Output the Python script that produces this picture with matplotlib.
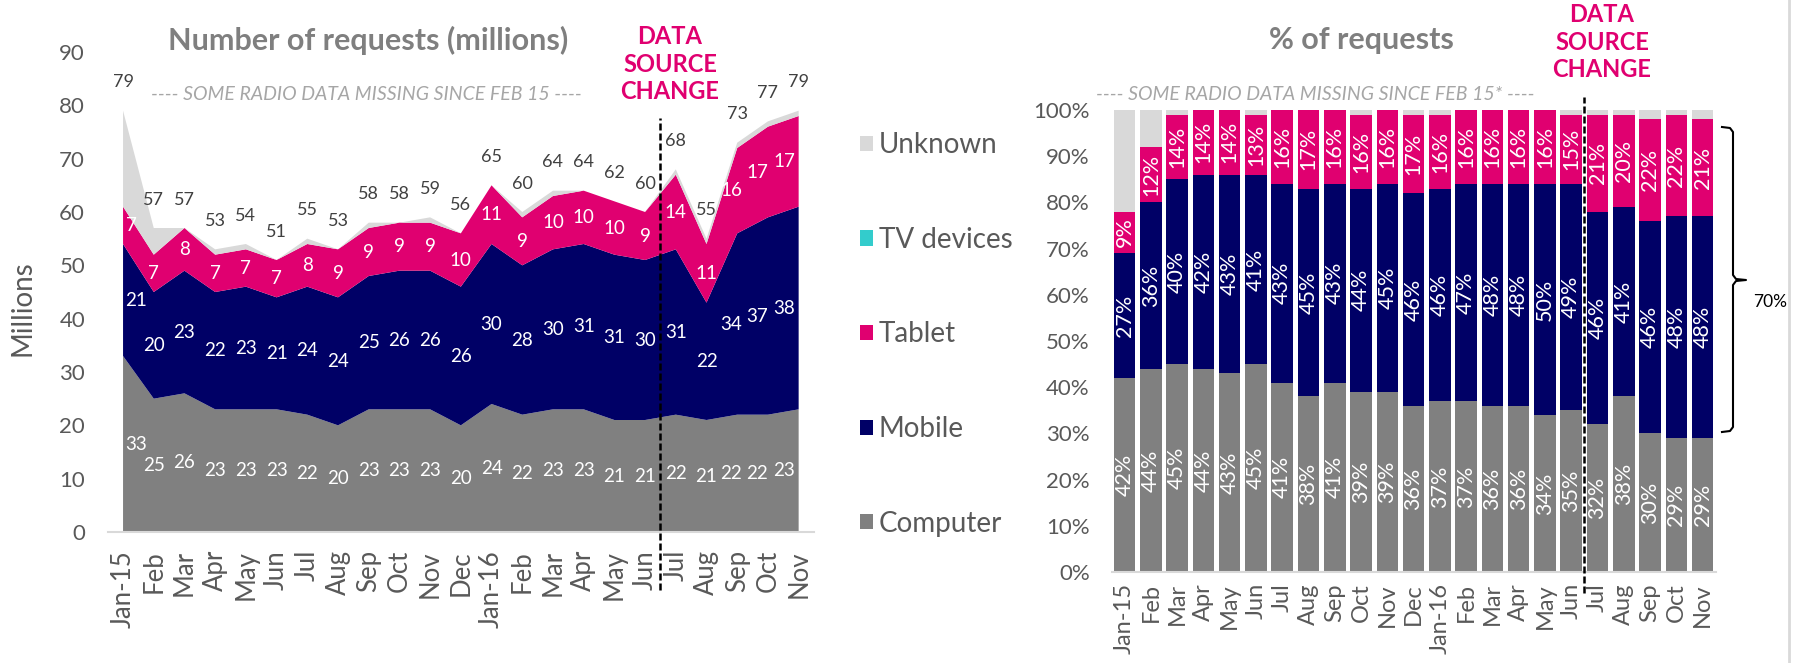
import matplotlib
matplotlib.use("Agg")
import matplotlib.pyplot as plt
import matplotlib.transforms as mtransforms
from matplotlib.lines import Line2D
import numpy as np

plt.rcParams["font.family"] = ["Lato", "DejaVu Sans"]

W, H = 1800, 663
C_COMP, C_MOB, C_TAB, C_TV, C_UNK = "#808080", "#000066", "#E00070", "#33CCCC", "#D9D9D9"
C_TXT, C_TITLE, C_NOTE = "#595959", "#7F7F7F", "#A6A6A6"

months = ["Jan-15", "Feb", "Mar", "Apr", "May", "Jun", "Jul", "Aug", "Sep", "Oct", "Nov", "Dec",
          "Jan-16", "Feb", "Mar", "Apr", "May", "Jun", "Jul", "Aug", "Sep", "Oct", "Nov"]
series = ["Computer", "Mobile", "Tablet", "TV devices", "Unknown"]

# number of requests, millions
computer_m = [33, 25, 26, 23, 23, 23, 22, 20, 23, 23, 23, 20, 24, 22, 23, 23, 21, 21, 22, 21, 22, 22, 23]
mobile_m = [21, 20, 23, 22, 23, 21, 24, 24, 25, 26, 26, 26, 30, 28, 30, 31, 31, 30, 31, 22, 34, 37, 38]
tablet_m = [7, 7, 8, 7, 7, 7, 8, 9, 9, 9, 9, 10, 11, 9, 10, 10, 10, 9, 14, 11, 16, 17, 17]
tv_m = [0] * 23
total_m = [79, 57, 57, 53, 54, 51, 55, 53, 58, 58, 59, 56, 65, 60, 64, 64, 62, 60, 68, 55, 73, 77, 79]

# share of requests, %
computer_pct = [42, 44, 45, 44, 43, 45, 41, 38, 41, 39, 39, 36, 37, 37, 36, 36, 34, 35, 32, 38, 30, 29, 29]
mobile_pct = [27, 36, 40, 42, 43, 41, 43, 45, 43, 44, 45, 46, 46, 47, 48, 48, 50, 49, 46, 41, 46, 48, 48]
tablet_pct = [9, 12, 14, 14, 14, 13, 16, 17, 16, 16, 16, 17, 16, 16, 16, 16, 16, 15, 21, 20, 22, 22, 21]
tv_pct = [0] * 23

change_at = 17.5  # between Jun-16 and Jul-16

x = np.arange(len(months))
known_m = np.array(computer_m) + np.array(mobile_m) + np.array(tablet_m) + np.array(tv_m)
unknown_m = np.clip(np.array(total_m) - known_m, 0, None)
known_pct = np.array(computer_pct) + np.array(mobile_pct) + np.array(tablet_pct) + np.array(tv_pct)
unknown_pct = np.clip(100 - known_pct, 0, None)
colors = [C_COMP, C_MOB, C_TAB, C_TV, C_UNK]

fig = plt.figure(figsize=(18, 6.63), dpi=100, facecolor="white")
ax1 = fig.add_axes([108 / W, 1 - 532 / H, 706 / W, 480 / H])
ax2 = fig.add_axes([1112 / W, 1 - 572 / H, 604 / W, 462 / H])

# ---- left: stacked area
layers_m = [computer_m, mobile_m, tablet_m, tv_m, unknown_m]
polys = ax1.stackplot(x, *layers_m, colors=colors, labels=series, lw=0)
ax1.set_xlim(-0.49, 22.5)
ax1.set_ylim(0, 90)
ax1.set_yticks(range(0, 91, 10))
ax1.set_xticks(x)
ax1.set_xticklabels(months, rotation=90, va="top")
ax1.tick_params(axis="y", length=0, pad=16.5, labelsize=16, labelcolor=C_TXT)
ax1.tick_params(axis="x", length=0, pad=13, labelsize=18.5, labelcolor=C_TXT)
ax1.set_ylabel("Millions", fontsize=20, color=C_TXT)
ax1.yaxis.set_label_coords(-0.103, 0.467)

# inner labels sit a little left near the right edge, as in the source chart
nudge = {0: 0.08, 20: -0.2, 21: -0.35}
bottom = np.zeros(len(x))
for vals in (computer_m, mobile_m, tablet_m):
    for i, v in enumerate(vals):
        xi, ha = i + nudge.get(i, 0), "center"
        if i == 0:
            ha = "left"
        elif i == len(x) - 1:
            xi, ha = len(x) - 1 - 0.12, "right"
        ax1.text(xi, bottom[i] + v / 2, str(v), ha=ha, va="center",
                 fontsize=13.5, color="white", zorder=4)
    bottom += np.array(vals)
for i, v in enumerate(total_m):
    ax1.text(i, v + 5.3, str(v), ha="center", va="center", fontsize=13, color="#404040")

# ---- right: 100% stacked bars
layers_pct = [computer_pct, mobile_pct, tablet_pct, tv_pct, unknown_pct]
bottom = np.zeros(len(x))
for vals, col in zip(layers_pct, colors):
    ax2.bar(x, vals, bottom=bottom, width=0.82, color=col, lw=0)
    bottom += np.array(vals)
bottom = np.zeros(len(x))
for vals in (computer_pct, mobile_pct, tablet_pct):
    for i, v in enumerate(vals):
        ax2.text(i, bottom[i] + v / 2, f"{v}%", ha="center", va="center", rotation=90,
                 fontsize=15.5, color="white", zorder=4)
    bottom += np.array(vals)
ax2.set_xlim(-0.48, 22.51)
ax2.set_ylim(0, 100)
ax2.set_yticks(range(0, 101, 10))
ax2.set_yticklabels([f"{v}%" for v in range(0, 101, 10)])
ax2.set_xticks(x)
ax2.set_xticklabels(months, rotation=90, va="top")
ax2.tick_params(axis="y", length=0, pad=16, labelsize=16, labelcolor=C_TXT)
ax2.tick_params(axis="x", length=0, pad=8, labelsize=17, labelcolor=C_TXT)

for ax in (ax1, ax2):
    for s in ("left", "right", "top"):
        ax.spines[s].set_visible(False)
    ax.spines["bottom"].set_color("#D9D9D9")
    ax.spines["bottom"].set_linewidth(1.5)

# data source change markers
for ax, y0, y1 in ((ax1, -0.121, 0.8625), (ax2, -0.045, 1.028)):
    tr = mtransforms.blended_transform_factory(ax.transData, ax.transAxes)
    ax.plot([change_at, change_at], [y0, y1], transform=tr, color="black",
            ls=(0, (2.8, 1.2)), lw=1.8, clip_on=False, zorder=6)
for cx, cy in ((670, 64), (1602, 42)):
    fig.text(cx / W, 1 - cy / H, "DATA\nSOURCE\nCHANGE", ha="center", va="center",
             fontsize=17, fontweight="bold", color=C_TAB, linespacing=1.22)

# titles and notes
fig.text(368 / W, 1 - 40 / H, "Number of requests (millions)", ha="center", va="center",
         fontsize=22, fontweight="bold", color=C_TITLE)
fig.text(1361 / W, 1 - 40 / H, "% of requests", ha="center", va="center",
         fontsize=22, fontweight="bold", color=C_TITLE)
fig.text(366 / W, 1 - 94 / H, "---- SOME RADIO DATA MISSING SINCE FEB 15 ----", ha="center",
         va="center", fontsize=14, style="italic", color=C_NOTE)
fig.text(1315 / W, 1 - 94 / H, "---- SOME RADIO DATA MISSING SINCE FEB 15* ----", ha="center",
         va="center", fontsize=14, style="italic", color=C_NOTE)

# legend
fig.legend(handles=polys[::-1], labels=series[::-1], loc="center left",
           bbox_to_anchor=(860 / W, 1 - 334.5 / H), frameon=False, fontsize=20,
           labelcolor=C_TXT, labelspacing=2.47, handlelength=0.47, handleheight=0.47,
           handletextpad=0.2, borderpad=0, borderaxespad=0)

# bracket for 70%
bx = [1722, 1730, 1733, 1733, 1736, 1746, 1736, 1733, 1733, 1730, 1722]
by = [127, 128, 132, 275, 279, 280, 281, 285, 427, 431, 432]
fig.add_artist(Line2D([v / W for v in bx], [1 - v / H for v in by], color="black", lw=1.5))
fig.text(1770 / W, 1 - 302 / H, "70%", ha="center", va="center", fontsize=12.5, color="black")
fig.add_artist(Line2D([1789 / W, 1789 / W], [0, 1], color="#D9D9D9", lw=2))

fig.savefig("out.png", dpi=100, facecolor="white")
